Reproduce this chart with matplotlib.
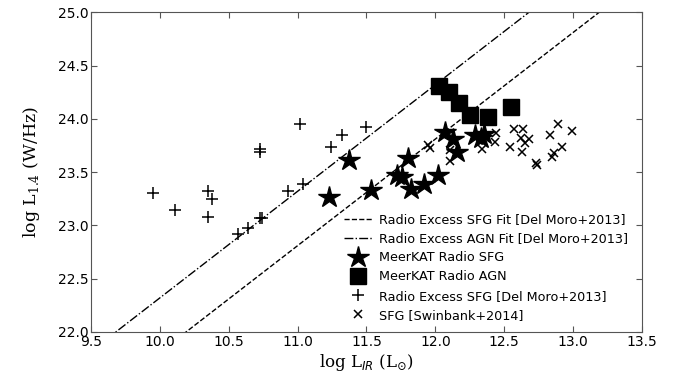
import numpy as np
import matplotlib
matplotlib.use('Agg')
import matplotlib.pyplot as plt

plt.rcParams['mathtext.fontset'] = 'custom'
plt.rcParams['mathtext.rm'] = 'DejaVu Serif'
plt.rcParams['mathtext.it'] = 'DejaVu Sans:italic'

# Del Moro+2013 fits: log L1.4 = log LIR + c
sfg_fit_c = 11.81
agn_fit_c = 12.32

# MeerKAT radio SFG
sfg_lir = [11.23, 11.37, 11.53, 11.72, 11.76, 11.80, 11.82, 11.92, 12.02, 12.07, 12.13, 12.16, 12.29, 12.33, 12.35]
sfg_l14 = [23.27, 23.61, 23.33, 23.47, 23.45, 23.63, 23.34, 23.39, 23.47, 23.88, 23.81, 23.69, 23.85, 23.82, 23.86]

# MeerKAT radio AGN
agn_lir = [12.03, 12.10, 12.17, 12.25, 12.38, 12.55]
agn_l14 = [24.31, 24.25, 24.15, 24.04, 24.02, 24.11]

# radio excess SFG, Del Moro+2013
dm_lir = [9.95, 10.11, 10.35, 10.38, 10.35, 10.73, 10.73, 10.93, 10.73, 10.74, 10.57, 10.64,
          11.02, 11.32, 11.24, 11.50, 11.04]
dm_l14 = [23.30, 23.14, 23.32, 23.25, 23.08, 23.72, 23.69, 23.32, 23.07, 23.07, 22.92, 22.98,
          23.95, 23.85, 23.74, 23.92, 23.39]

# SFG, Swinbank+2014
sw_lir = [11.95, 11.96, 12.11, 12.11, 12.34, 12.44, 12.43, 12.57, 12.64, 12.62, 12.68, 12.65,
          12.54, 12.63, 12.73, 12.74, 12.83, 12.89, 12.99, 12.92, 12.86, 12.85]
sw_l14 = [23.75, 23.73, 23.71, 23.60, 23.72, 23.87, 23.78, 23.90, 23.90, 23.82, 23.81, 23.77,
          23.74, 23.69, 23.59, 23.57, 23.85, 23.95, 23.89, 23.74, 23.68, 23.64]

fig = plt.figure(figsize=(6.91, 3.83), dpi=100)
ax = fig.add_axes([0.1317, 0.1332, 0.929 - 0.1317, 0.968 - 0.1332])

xx = np.array([9.0, 14.0])
l1, = ax.plot(xx, xx + sfg_fit_c, 'k--', lw=1, label='Radio Excess SFG Fit [Del Moro+2013]')
l2, = ax.plot(xx, xx + agn_fit_c, 'k-.', lw=1, label='Radio Excess AGN Fit [Del Moro+2013]')
p5, = ax.plot(dm_lir, dm_l14, 'k+', ms=8, mew=1.1, ls='none', label='Radio Excess SFG [Del Moro+2013]')
p6, = ax.plot(sw_lir, sw_l14, 'kx', ms=5.5, mew=1.1, ls='none', label='SFG [Swinbank+2014]')
p3, = ax.plot(sfg_lir, sfg_l14, 'k*', ms=16, ls='none', label='MeerKAT Radio SFG')
p4, = ax.plot(agn_lir, agn_l14, 'ks', ms=11, ls='none', label='MeerKAT Radio AGN')

ax.set_xlim(9.5, 13.5)
ax.set_ylim(22.0, 25.0)
ax.set_xticks(np.arange(9.5, 13.51, 0.5))
ax.set_yticks(np.arange(22.0, 25.01, 0.5))
ax.tick_params(direction='in', top=True, right=True, labelsize=10, length=4, pad=2, color='#555555')
for s in ax.spines.values():
    s.set_color('#555555')

ax.set_xlabel(r'log L$_{IR}$ (L$_{\odot}$)', family='DejaVu Serif', fontsize=12, labelpad=2)
ax.set_ylabel(r'log L$_{1.4}$ (W/Hz)', family='DejaVu Serif', fontsize=12.5, labelpad=11)

ax.legend(handles=[l1, l2, p3, p4, p5, p6], loc='lower right', frameon=False, fontsize=9.2,
          handlelength=2.2, handletextpad=0.6, labelspacing=0.48, borderaxespad=0.4,
          bbox_to_anchor=(0.994, 0.0))

fig.savefig('out.png', dpi=100)
